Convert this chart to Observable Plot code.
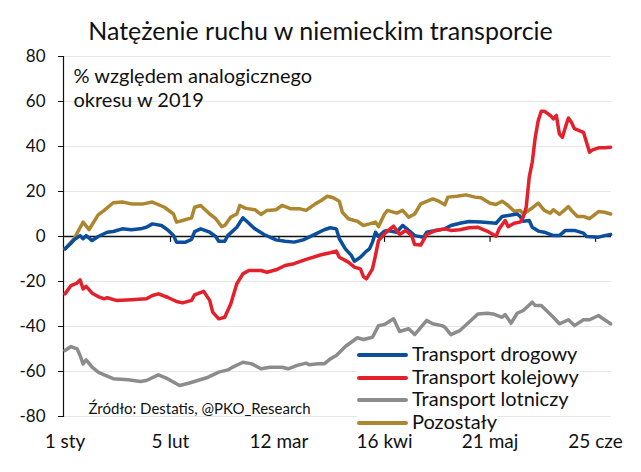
<!DOCTYPE html>
<html>
<head>
<meta charset="utf-8">
<script src="https://cdn.jsdelivr.net/npm/d3@7"></script>
<script src="https://cdn.jsdelivr.net/npm/@observablehq/plot@0.6"></script>
<style>
  html, body { margin: 0; padding: 0; background: #fff; }
  #wrap { position: relative; width: 641px; height: 472px; font-family: Lato, sans-serif; color: #111; }
  #title { position: absolute; left: 0; top: 15px; width: 641px; text-align: center; font-size: 25px; line-height: 30px; }
  #chart { position: absolute; left: 0; top: 44px; }
  #legend { position: absolute; left: 357px; top: 342px; }
  .row { display: table; background: #fff; font-size: 20px; line-height: 22.6px; white-space: nowrap; }
  .sw { display: inline-block; width: 51px; height: 4px; border-radius: 2px; vertical-align: middle; margin-right: 4px; position: relative; top: -1px; }
</style>
</head>
<body>
<div id="wrap">
  <div id="title">Natężenie ruchu w niemieckim transporcie</div>
  <div id="chart"></div>
  <div id="legend"></div>
</div>
<script>
// ---- data (day offsets from 1 Jan 2020, values in % vs 2019) ----
const seriesNames = ["Transport drogowy", "Transport kolejowy", "Transport lotniczy", "Pozostały"];
const seriesColors = ["#0b4e9c", "#e3202b", "#8c8c8c", "#ad8630"];

const drogowyDays = [0,2,3,5,6,7,9,11,14,16,19,22,25,27,29,32,34,36,37,40,42,43,45,48,50,51,53,54,57,59,60,63,66,70,73,76,79,82,86,88,90,91,93,95,96,98,100,101,102,103,104,106,107,110,112,114,116,119,120,123,126,128,131,134,138,141,143,145,147,150,151,152,154,155,157,159,162,164,166,169,172,173,177,179,181];
const drogowyVals = [-5.5,-3,-1.5,0.4,-1,0.4,-1.8,0,1.9,2.2,3.4,3,3.4,4.1,5.6,4.9,3,0.4,-2.5,-2.5,-1.3,2.2,3.4,1.9,0,-2.1,-2.1,0.4,4.1,8.3,7.1,3.4,0.9,-1.5,-2.1,-2.5,-1.5,0.4,3,3.9,3.4,-1,-5.5,-8.4,-11,-9.2,-6.5,-5.5,-2.5,1.9,0,2.4,2.7,1.9,4.9,2.7,0.4,-0.3,1.9,2.7,3.4,4.9,5.9,6.7,6.4,6.1,5.9,8.9,9.3,10,8.9,6.8,7.1,4.1,2.4,1.9,0.4,0.4,2.7,2.7,1.5,0,-0.3,0.4,0.9];

const kolejowyDays = [0,2,4,5,6,7,9,11,13,14,17,22,27,29,31,34,37,39,42,43,46,48,49,51,53,55,57,59,61,65,67,70,73,76,80,85,88,90,91,94,96,98,99,100,102,103,104,106,107,109,110,111,113,115,116,118,120,123,126,128,131,134,137,140,143,144,146,147,149,151,152,153,154,155,156,157,158,159,161,162,163,164,165,166,167,168,169,172,173,174,175,177,179,181];
const kolejowyVals = [-25.5,-21.8,-20.7,-19.3,-23.3,-22.2,-25.2,-26.7,-27.7,-27.2,-28.4,-28.1,-27.7,-26.2,-25.5,-27,-28.9,-29.5,-28.4,-25.9,-24.4,-28.4,-33.6,-36.6,-35.9,-29.9,-21,-16.6,-15.1,-15.1,-15.9,-14.8,-12.9,-12.1,-10.2,-8.1,-7.2,-6.5,-9.2,-11.4,-13.6,-14.4,-17.8,-18.8,-14.4,-8.4,-1.8,1.2,2.4,4.6,2.7,0.9,2.7,0.4,-3.6,-3.8,0.9,2.7,3.4,2.7,3,3.9,4.1,2.4,0.1,3.4,7.1,4.4,5.9,6.4,8.6,13,26.4,33,44.1,51.6,55.7,55.7,53.8,52.3,53.8,45.6,44.1,48.6,52.7,50.8,47.9,46.3,41.9,37.5,38.5,39.4,39.4,39.7];

const lotniczyDays = [0,2,4,5,6,7,9,11,13,16,21,25,27,31,34,38,41,44,47,51,54,56,59,62,65,68,72,74,77,80,81,84,86,88,90,93,97,99,102,104,106,109,111,114,116,120,122,125,126,128,131,134,137,140,142,145,146,148,150,152,155,156,158,162,164,167,169,172,174,177,178,181];
const lotniczyVals = [-50.7,-48.9,-49.9,-52.9,-56.6,-54.8,-58.1,-60.3,-61.5,-63.2,-63.7,-64.4,-64,-61.5,-63.2,-66.2,-65.2,-64,-62.8,-60.3,-59.3,-57.8,-55.9,-56.6,-58.8,-58.1,-58.1,-58.8,-57.3,-56.3,-57,-56.6,-56.6,-54.4,-52.9,-48.9,-45,-45.8,-44.8,-39.6,-39.1,-36.6,-42.2,-41,-43.6,-37.3,-38.8,-39.6,-40.3,-43.6,-41.8,-38.1,-34.4,-34.1,-34.4,-35.9,-34.7,-38.5,-34.1,-32.9,-29.2,-30.7,-30.7,-35.9,-38.8,-37,-39.6,-37,-37,-35.1,-36.1,-38.8];

const pozostalyDays = [0,3,6,8,11,13,16,19,22,26,29,33,36,37,39,42,43,45,48,50,52,53,55,57,58,60,63,65,67,70,72,75,78,80,83,85,87,89,91,92,94,96,97,99,101,103,104,106,107,110,112,114,116,118,122,124,126,127,130,133,136,138,141,143,145,147,149,151,152,155,157,159,161,162,164,167,168,170,172,174,177,179,181];
const pozostalyVals = [-5.5,-1,6.4,3.1,9.6,11.6,15,15.3,14.5,14.5,15.3,13,10,6.4,7.1,8.3,13,13.8,10,7.9,4.4,4.9,8.6,10,13.8,12.5,11.9,9.8,11.6,11.9,13.8,12.3,12.3,11.6,14.5,16,17.9,17.2,15.7,10.8,7.9,7.1,6.8,4.9,5.6,6.4,4.4,10,11.6,10.4,11.6,8.6,10,14.5,16.7,15.7,14.1,17.5,17.9,18.5,17.5,17.2,14.8,14.2,15.7,13.8,11.2,11.6,10,12.7,14.8,11.6,10.4,11.9,9.8,13.3,11.6,8.9,8.9,7.9,11.1,10.8,10];

const tickDays = [0, 35, 71, 106, 141, 176];
const tickLabels = ["1 sty", "5 lut", "12 mar", "16 kwi", "21 maj", "25 cze"];
const yTicks = [-80, -60, -40, -20, 0, 20, 40, 60, 80];

// ---- build table ----
const day = d => new Date(Date.UTC(2020, 0, 1) + d * 864e5);
const rows = [];
function add(name, days, vals) { days.forEach((d, i) => rows.push({date: day(d), value: vals[i], series: name})); }
// draw order: gold, gray, blue, red
add("Pozostały", pozostalyDays, pozostalyVals);
add("Transport lotniczy", lotniczyDays, lotniczyVals);
add("Transport drogowy", drogowyDays, drogowyVals);
add("Transport kolejowy", kolejowyDays, kolejowyVals);

const tickDates = tickDays.map(day);
const labelFor = new Map(tickDates.map((d, i) => [+d, tickLabels[i]]));

const chart = Plot.plot({
  width: 641,
  height: 428,
  marginTop: 12,
  marginBottom: 56,
  marginLeft: 63,
  marginRight: 30,
  style: {fontFamily: "Lato, sans-serif", color: "#111", background: "#fff"},
  x: {type: "utc", domain: [new Date(Date.UTC(2019, 11, 31, 12)), new Date(Date.UTC(2020, 5, 30, 7))], label: null},
  y: {domain: [-80, 80], label: null},
  color: {domain: seriesNames, range: seriesColors},
  marks: [
    Plot.gridY(yTicks.filter(v => v !== 0), {stroke: "#e6e6e6", strokeOpacity: 1, strokeWidth: 1.2}),
    Plot.axisY(yTicks, {tickSize: 5, tickPadding: 13, tickFormat: d => String(d), fontSize: 17, stroke: "#111", label: null}),
    Plot.frame({anchor: "left", stroke: "#111", strokeWidth: 1.2}),
    Plot.axisX(tickDates, {tickSize: 0, tickPadding: 18, tickFormat: d => labelFor.get(+d), fontSize: 19, label: null}),
    Plot.ruleY([0], {stroke: "#111", strokeWidth: 1.5}),
    Plot.ruleX(tickDates.slice(1), {y1: 0, y2: -2.6, stroke: "#111", strokeWidth: 1.2}),
    Plot.text(["% względem analogicznego\nokresu w 2019"], {frameAnchor: "top-left", dx: 10, dy: 9, lineAnchor: "top", textAnchor: "start", fontSize: 20, lineHeight: 1.2, fill: "#111"}),
    Plot.text(["Źródło: Destatis, @PKO_Research"], {frameAnchor: "bottom-left", dx: 25, dy: -3, lineAnchor: "bottom", textAnchor: "start", fontSize: 15, fill: "#111"}),
    Plot.line(rows, {x: "date", y: "value", z: "series", stroke: "series", strokeWidth: 3.5, curve: "linear", strokeLinejoin: "round", strokeLinecap: "round"})
  ]
});
document.getElementById("chart").appendChild(chart);

const legend = document.getElementById("legend");
seriesNames.forEach((name, i) => {
  const r = document.createElement("div");
  r.className = "row";
  const sw = document.createElement("span");
  sw.className = "sw";
  sw.style.background = seriesColors[i];
  r.appendChild(sw);
  r.appendChild(document.createTextNode(name));
  legend.appendChild(r);
});
</script>
</body>
</html>
